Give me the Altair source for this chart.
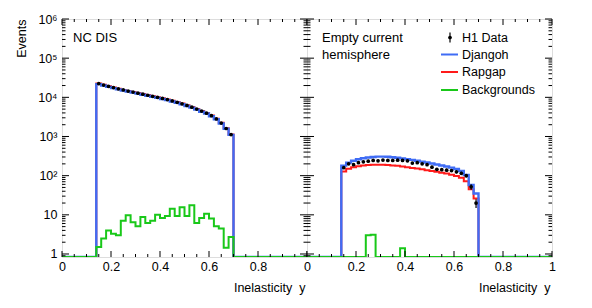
import altair as alt
import pandas as pd

# ---------------- data ----------------
bin_lo = [0.14, 0.16, 0.18, 0.20, 0.22, 0.24, 0.26, 0.28, 0.30, 0.32, 0.34, 0.36, 0.38, 0.40,
          0.42, 0.44, 0.46, 0.48, 0.50, 0.52, 0.54, 0.56, 0.58, 0.60, 0.62, 0.64, 0.66, 0.68]
bin_w = 0.02

left_data = [22500, 20600, 19100, 17700, 16500, 15400, 14500, 13600, 12800, 12000, 11300, 10600,
             10000, 9400, 8750, 8100, 7450, 6850, 6200, 5600, 5000, 4450, 3950, 3400, 2800, 2200,
             1600, 1120]
left_djangoh = [21800, 20000, 18500, 17200, 16000, 15000, 14100, 13200, 12400, 11650, 10950, 10300,
                9700, 9100, 8500, 7850, 7250, 6650, 6000, 5450, 4850, 4300, 3850, 3300, 2750, 2150,
                1580, 1100]
left_rapgap = [22700, 20800, 19300, 17900, 16600, 15500, 14600, 13700, 12900, 12100, 11400, 10700,
               10100, 9500, 8850, 8200, 7550, 6950, 6300, 5700, 5050, 4500, 4000, 3450, 2850, 2250,
               1630, 1130]
left_bkg = [1.5, 2.5, 4.0, 3.3, 3.0, 7.1, 9.7, 6.5, 5.1, 8.8, 6.2, 7.1, 10.0, 8.3, 9.3, 14.4,
            9.3, 15.5, 9.3, 17.5, 6.2, 8.3, 10.7, 8.1, 5.1, 4.5, 1.45, 2.7]

right_data = [160, 200, 190, 215, 225, 235, 245, 240, 250, 245, 245, 248, 245, 240, 210, 215,
              200, 190, 165, 145, 142, 138, 135, 125, 115, 100, 52, 20]
right_err = [12, 13, 13, 14, 14, 15, 15, 15, 15, 15, 15, 15, 15, 15, 14, 14, 14, 13, 13, 12,
             12, 12, 11, 11, 11, 10, 8, 5]
right_djangoh = [180, 215, 240, 262, 278, 290, 300, 306, 307, 303, 296, 287, 277, 265, 253, 241,
                 228, 216, 204, 193, 182, 172, 160, 148, 132, 104, 58, 35]
right_rapgap = [127, 150, 165, 175, 182, 186, 189, 190, 189, 186, 182, 178, 172, 165, 158, 152,
                145, 138, 132, 126, 119, 113, 106, 98, 88, 72, 45, 26]
right_bkg = [0, 0, 0, 0, 0, 3.0, 3.1, 0, 0, 0, 0, 0, 1.4, 0, 0, 0, 0, 0, 0, 0, 0, 0, 0, 0, 0, 0, 0, 0]

legend_names = ["H1 Data", "Djangoh", "Rapgap", "Backgrounds"]
colors = {"H1 Data": "#000000", "Djangoh": "#3f6cf5", "Rapgap": "#ff1a1a", "Backgrounds": "#19c819"}
widths = {"Djangoh": 2.4, "Rapgap": 2, "Backgrounds": 2}

x_major = [0.0, 0.2, 0.4, 0.6, 0.8, 1.0]
x_minor = [0.05, 0.1, 0.15, 0.25, 0.3, 0.35, 0.45, 0.5, 0.55, 0.65, 0.7, 0.75, 0.85, 0.9, 0.95]
y_major = [1, 10, 100, 1e3, 1e4, 1e5, 1e6]
y_minor = [0.9] + [m * 10 ** k for k in range(6) for m in range(2, 10)]

# ---------------- style ----------------
FONT = "Liberation Sans"
FS = 12.5
W, H = 245, 238
FLOOR = 0.838
xscale = alt.Scale(domain=[0, 1], nice=False, zero=False)
yscale = alt.Scale(type="log", domain=[FLOOR, 1e6], nice=False)

ylab = ("datum.value < 2 ? '1' : datum.value < 20 ? '10' : datum.value < 200 ? '10\u00b2' : "
        "datum.value < 2000 ? '10\u00b3' : datum.value < 20000 ? '10\u2074' : "
        "datum.value < 200000 ? '10\u2075' : '10\u2076'")


def x_axis(values):
    return alt.Axis(values=values, ticks=False, domain=False, grid=False,
                    labelExpr="datum.value == 0 ? '0' : datum.value == 1 ? '1' : format(datum.value, '.1f')",
                    labelFont=FONT, labelFontSize=FS, labelColor="black", labelPadding=3,
                    labelFlush=False, labelOverlap=False,
                    title="Inelasticity\u00a0\u00a0y", titleFont=FONT, titleFontSize=FS,
                    titleFontWeight="normal",
                    titleColor="black", titleX=W - 2, titleY=30, titleAlign="right",
                    titleBaseline="middle")


def y_axis(show):
    if show:
        return alt.Axis(values=y_major, ticks=False, domain=False, grid=False, labelExpr=ylab,
                        labelFont=FONT, labelFontSize=FS, labelColor="black", labelPadding=5,
                        labelFlush=False, labelOverlap=False,
                        title="Events", titleFont=FONT, titleFontSize=FS, titleFontWeight="normal",
                        titleColor="black", titleX=-41, titleY=0, titleAngle=270,
                        titleAlign="right", titleBaseline="middle")
    return alt.Axis(values=y_major, ticks=False, domain=False, grid=False, labels=False,
                    title="")


def hist_df(vals):
    xs = [0.0] + bin_lo + [bin_lo[-1] + bin_w, 1.0]
    ys = [FLOOR] + [v if v > 0 else FLOOR for v in vals] + [FLOOR, FLOOR]
    return pd.DataFrame({"x": xs, "y": ys})


dummy = pd.DataFrame({"a": [0]})


def panel(data, err, djangoh, rapgap, bkg, xvals, show_y, texts, legend):
    X = alt.X("x:Q", scale=xscale, axis=x_axis(xvals))
    Y = alt.Y("y:Q", scale=yscale, axis=y_axis(show_y))
    layers = []
    for vals, name in [(rapgap, "Rapgap"), (djangoh, "Djangoh"), (bkg, "Backgrounds")]:
        layers.append(alt.Chart(hist_df(vals)).mark_line(
            interpolate="step-after", color=colors[name], strokeWidth=widths[name], clip=True
        ).encode(x=X, y=Y))
    centers = [round(b + bin_w / 2, 3) for b in bin_lo]
    ddf = pd.DataFrame({"x": centers, "y": data})
    if err is not None:
        ddf["lo"] = [d - e for d, e in zip(data, err)]
        ddf["hi"] = [d + e for d, e in zip(data, err)]
        layers.append(alt.Chart(ddf).mark_rule(color="black", strokeWidth=1.2).encode(
            x=X, y=alt.Y("lo:Q", scale=yscale, axis=y_axis(show_y)), y2="hi:Q"))
    layers.append(alt.Chart(ddf).mark_point(filled=True, color="black", size=14, opacity=1).encode(
        x=X, y=Y))
    # inward ticks
    for vals, ln in [(y_major, 7), (y_minor, 3.5)]:
        tdf = pd.DataFrame({"y": vals})
        layers.append(alt.Chart(tdf).mark_rule(color="black", strokeWidth=1).encode(
            y=Y, x=alt.value(0), x2=alt.value(ln)))
        layers.append(alt.Chart(tdf).mark_rule(color="black", strokeWidth=1).encode(
            y=Y, x=alt.value(W - ln), x2=alt.value(W)))
    for vals, ln in [(x_major, 6), (x_minor, 3)]:
        tdf = pd.DataFrame({"x": vals})
        layers.append(alt.Chart(tdf).mark_rule(color="black", strokeWidth=1).encode(
            x=X, y=alt.value(H - ln), y2=alt.value(H)))
        layers.append(alt.Chart(tdf).mark_rule(color="black", strokeWidth=1).encode(
            x=X, y=alt.value(0), y2=alt.value(ln)))
    for t, px, py in texts:
        layers.append(alt.Chart(dummy).mark_text(
            text=t, font=FONT, fontSize=13, align="left", baseline="middle", color="black"
        ).encode(x=alt.value(px), y=alt.value(py)))
    if legend:
        rows = [18.5, 35.5, 53, 71]
        for name, ry in zip(legend_names, rows):
            if name == "H1 Data":
                layers.append(alt.Chart(dummy).mark_rule(color="black", strokeWidth=1.2).encode(
                    x=alt.value(143), y=alt.value(ry - 5), y2=alt.value(ry + 5)))
                layers.append(alt.Chart(dummy).mark_point(
                    filled=True, color="black", size=14, opacity=1
                ).encode(x=alt.value(143), y=alt.value(ry)))
            else:
                layers.append(alt.Chart(dummy).mark_rule(color=colors[name], strokeWidth=2).encode(
                    x=alt.value(134), x2=alt.value(151), y=alt.value(ry)))
            layers.append(alt.Chart(dummy).mark_text(
                text=name, font=FONT, fontSize=FS, align="left", baseline="middle", color="black"
            ).encode(x=alt.value(155), y=alt.value(ry)))
    return alt.layer(*layers).properties(width=W, height=H)


left = panel(left_data, None, left_djangoh, left_rapgap, left_bkg,
             [0.0, 0.2, 0.4, 0.6, 0.8], True, [("NC DIS", 11, 18.5)], False)
right = panel(right_data, right_err, right_djangoh, right_rapgap, right_bkg,
              [0.0, 0.2, 0.4, 0.6, 0.8, 1.0], False,
              [("Empty current", 15, 18.5), ("hemisphere", 15, 35.5)], True)

chart = alt.hconcat(left, right, spacing=0, bounds="flush").properties(
    padding={"left": 6, "top": 4, "right": 5, "bottom": 5}
).configure_view(stroke="black", strokeWidth=1).configure(background="white")

chart.save("out.html", embed_options={"renderer": "svg", "actions": False})
